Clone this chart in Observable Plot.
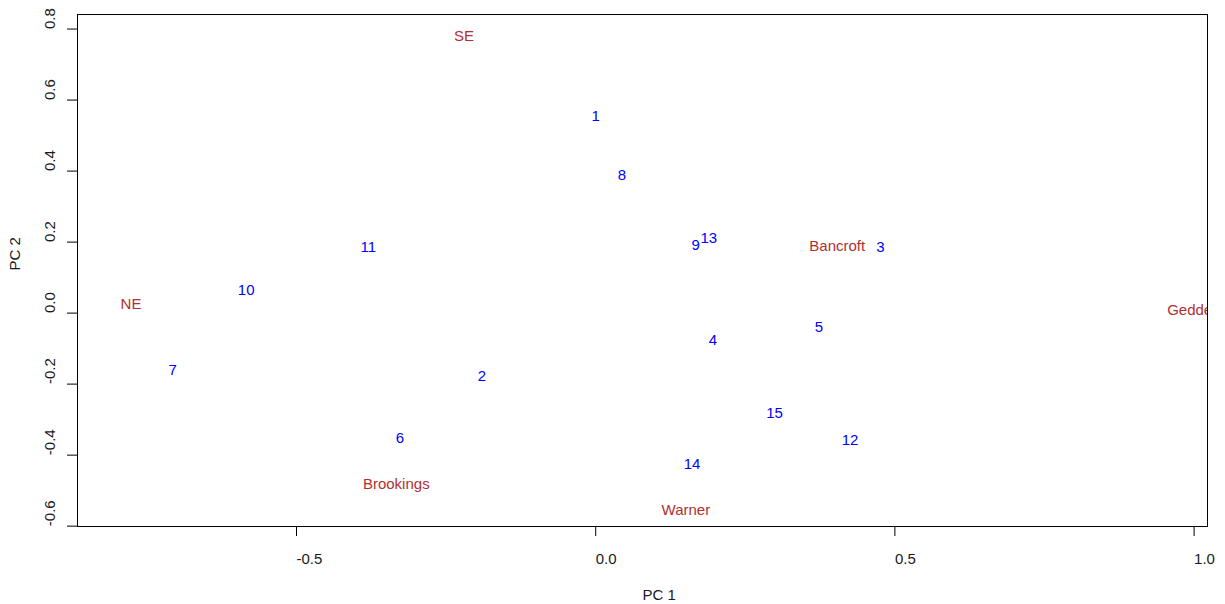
<!DOCTYPE html>
<html>
<head>
<meta charset="utf-8">
<script src="https://cdn.jsdelivr.net/npm/d3@7"></script>
<script src="https://cdn.jsdelivr.net/npm/@observablehq/plot@0.6"></script>
<style>
  html, body { margin: 0; padding: 0; background: #ffffff; }
  #chart svg { display: block; }
</style>
</head>
<body>
<div id="chart"></div>
<script>
// Case scores (blue numbers)
const caseLabels = ["1","2","3","4","5","6","7","8","9","10","11","12","13","14","15"];
const caseX = [-0.007, -0.197, 0.469, 0.189, 0.366, -0.334, -0.714, 0.037, 0.160, -0.598, -0.393, 0.411, 0.175, 0.147, 0.285];
const caseY = [0.554, -0.178, 0.187, -0.076, -0.040, -0.352, -0.162, 0.388, 0.190, 0.064, 0.187, -0.358, 0.211, -0.425, -0.282];

// Variable loadings (red names)
const varLabels = ["SE", "NE", "Bancroft", "Geddes", "Brookings", "Warner"];
const varX = [-0.237, -0.794, 0.357, 0.955, -0.389, 0.110];
const varY = [0.779, 0.024, 0.188, 0.009, -0.482, -0.555];

// Axes
const xTicks = [-0.5, 0, 0.5, 1];
const xTickLabels = ["-0.5", "0.0", "0.5", "1.0"];
const yTicks = [-0.6, -0.4, -0.2, 0, 0.2, 0.4, 0.6, 0.8];
const yTickLabels = ["-0.6", "-0.4", "-0.2", "0.0", "0.2", "0.4", "0.6", "0.8"];
const xTitle = "PC 1";
const yTitle = "PC 2";

const cases = caseLabels.map((label, i) => ({label, x: caseX[i], y: caseY[i]}));
const vars = varLabels.map((label, i) => ({label, x: varX[i], y: varY[i]}));

const font = "'Liberation Sans', Arial, Helvetica, sans-serif";

const chart = Plot.plot({
  width: 1225,
  height: 604,
  marginLeft: 77,
  marginRight: 18,
  marginTop: 14,
  marginBottom: 78,
  x: {domain: [-0.866, 1.0224]},
  y: {domain: [-0.601, 0.841]},
  style: {fontFamily: font, fontSize: "15px", background: "#ffffff", color: "#000000", overflow: "visible"},
  marks: [
    Plot.axisX({ticks: xTicks, tickSize: 10, tickFormat: () => "", label: null, stroke: "#000"}),
    Plot.axisY({ticks: yTicks, tickSize: 10, tickFormat: () => "", label: null, stroke: "#000"}),
    Plot.text(xTicks, {x: d => d, text: (d, i) => xTickLabels[i], frameAnchor: "bottom", dy: 27, textAnchor: "start", lineAnchor: "top", fill: "#1a1a1a", fontSize: 15}),
    Plot.text(yTicks, {y: d => d, text: (d, i) => yTickLabels[i], frameAnchor: "left", dx: -27, rotate: -90, textAnchor: "start", lineAnchor: "middle", fill: "#1a1a1a", fontSize: 15}),
    Plot.text([xTitle], {text: d => d, frameAnchor: "bottom", dy: 73, textAnchor: "start", lineAnchor: "bottom", fill: "#1a1a1a", fontSize: 15}),
    Plot.text([yTitle], {text: d => d, frameAnchor: "left", dx: -62, rotate: -90, textAnchor: "start", lineAnchor: "middle", fill: "#1a1a1a", fontSize: 15}),
    Plot.text(cases, {x: "x", y: "y", text: "label", fill: "#0000ff", textAnchor: "start", lineAnchor: "middle", fontSize: 15, clip: true}),
    Plot.text(vars, {x: "x", y: "y", text: "label", fill: "#b03030", textAnchor: "start", lineAnchor: "middle", fontSize: 15, clip: true}),
    Plot.frame({stroke: "#000"})
  ]
});

document.getElementById("chart").appendChild(chart);
</script>
</body>
</html>
